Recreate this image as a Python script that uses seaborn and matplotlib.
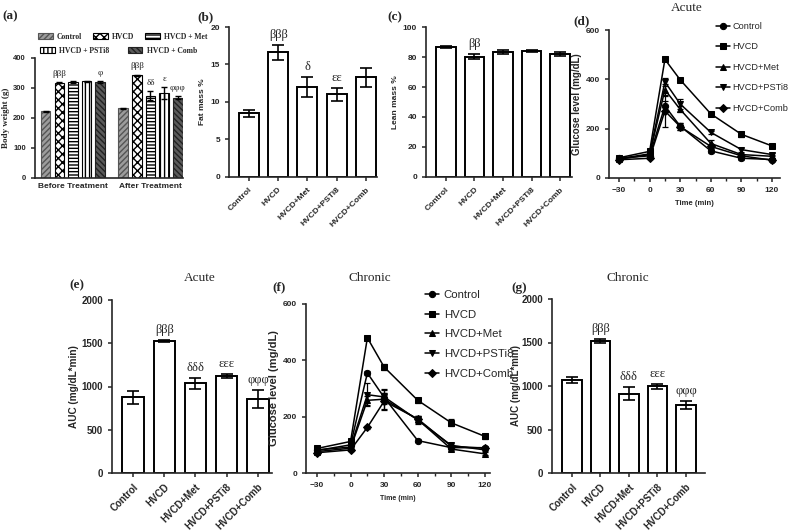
## load packages
import numpy as np
import pandas as pd
import seaborn as sns
import matplotlib.pyplot as plt
from matplotlib.patches import Patch
from matplotlib.ticker import MultipleLocator

## data
groups = ["Control", "HVCD", "HVCD+Met", "HVCD+PSTi8", "HVCD+Comb"]
groups_a = ["Control", "HVCD", "HVCD + Met", "HVCD + PSTi8", "HVCD + Comb"]
phases = ["Before Treatment", "After Treatment"]

bw_before = [222, 318, 320, 322, 320]
bw_before_err = [1, 2, 2, 3, 2]
bw_after = [232, 342, 275, 282, 268]
bw_after_err = [2, 3, 16, 20, 4]
bw_before_sig = ["", "βββ", "", "", "φ"]
bw_after_sig = ["", "βββ", "δδ", "ε", "φφφ"]

fat = [8.5, 16.6, 12.0, 11.0, 13.3]
fat_err = [0.45, 1.0, 1.3, 0.9, 1.25]
fat_sig = ["", "βββ", "δ", "εε", ""]

lean = [86.6, 80.2, 83.3, 84.0, 82.0]
lean_err = [0.5, 1.8, 1.3, 0.7, 1.2]
lean_sig = ["", "ββ", "", "", ""]

times = [-30, 0, 15, 30, 60, 90, 120]
acute_control = [80, 90, 292, 210, 110, 80, 75]
acute_hvcd = [82, 108, 481, 398, 260, 177, 130]
acute_met = [76, 95, 358, 278, 140, 95, 88]
acute_psti8 = [78, 98, 390, 300, 185, 115, 95]
acute_comb = [74, 80, 272, 208, 128, 90, 72]
acute_control_err = [5, 6, 20, 15, 8, 8, 5]
acute_hvcd_err = [5, 5, 8, 8, 6, 10, 8]
acute_met_err = [4, 5, 25, 12, 15, 8, 6]
acute_psti8_err = [4, 5, 15, 22, 6, 8, 6]
acute_comb_err = [4, 4, 65, 15, 8, 6, 5]

chronic_control = [80, 100, 355, 268, 115, 90, 90]
chronic_hvcd = [87, 112, 480, 376, 258, 178, 130]
chronic_met = [76, 88, 258, 262, 190, 85, 68]
chronic_psti8 = [82, 92, 278, 270, 188, 98, 82]
chronic_comb = [72, 82, 162, 255, 192, 95, 88]
chronic_control_err = [5, 5, 8, 15, 6, 6, 5]
chronic_hvcd_err = [5, 5, 8, 12, 8, 12, 8]
chronic_met_err = [4, 4, 15, 35, 12, 6, 5]
chronic_psti8_err = [4, 4, 40, 25, 15, 8, 5]
chronic_comb_err = [4, 4, 6, 30, 10, 6, 5]

auc_acute = [875, 1525, 1035, 1120, 855]
auc_acute_err = [75, 15, 60, 20, 100]
auc_chronic = [1068, 1515, 910, 995, 785]
auc_chronic_err = [30, 20, 75, 25, 45]
auc_sig = ["", "βββ", "δδδ", "εεε", "φφφ"]

## style
sns.set_theme(style="ticks")
plt.rcParams["font.family"] = ["Liberation Sans", "DejaVu Sans"]
plt.rcParams["font.weight"] = "bold"
plt.rcParams["axes.labelweight"] = "bold"
plt.rcParams["axes.linewidth"] = 1.2
plt.rcParams["xtick.major.width"] = 1.1
plt.rcParams["ytick.major.width"] = 1.1
plt.rcParams["xtick.major.size"] = 3
plt.rcParams["ytick.major.size"] = 3
plt.rcParams["hatch.linewidth"] = 1.0
SERIF = ["Liberation Serif", "DejaVu Serif"]

W, H = 789, 532
fig = plt.figure(figsize=(W / 100, H / 100), dpi=100)
fig.patch.set_facecolor("white")


def px_axes(l, t, r, b):
    return fig.add_axes([l / W, 1 - b / H, (r - l) / W, (b - t) / H])


def fig_text(x, y, s, **kw):
    fig.text(x / W, 1 - y / H, s, ha="center", va="center", **kw)


def bar_panel(ax, vals, errs, sigs, ylabel, ymax, step, xlim, tick_fs, label_fs, sig_fs, pad):
    sns.barplot(x=groups, y=vals, color="white", edgecolor="black",
                linewidth=1.4, width=0.68, saturation=1, ax=ax)
    ax.errorbar(range(5), vals, yerr=errs, fmt="none", ecolor="black",
                elinewidth=1.2, capsize=4, capthick=1.2)
    for i, s in enumerate(sigs):
        if s:
            ax.annotate(s, (i, vals[i] + errs[i]), xytext=(0, 3),
                        textcoords="offset points", ha="center", va="bottom",
                        fontsize=sig_fs, family=SERIF, fontweight="normal")
    ax.set_ylim(0, ymax)
    ax.set_xlim(*xlim)
    ax.yaxis.set_major_locator(MultipleLocator(step))
    ax.set_ylabel(ylabel, fontsize=label_fs, labelpad=pad)
    ax.set_xlabel("")
    ax.tick_params(labelsize=tick_fs)
    plt.setp(ax.get_xticklabels(), rotation=45, ha="right", rotation_mode="anchor")
    sns.despine(ax=ax)


def line_panel(ax, series, errs, xlim, leg_xy, leg_fs, leg_sp, leg_hl, leg_tp, ylab_fs, xlab_fs):
    rows = []
    for g in groups:
        for t, v in zip(times, series[g]):
            rows.append({"time": t, "glucose": v, "group": g})
    df = pd.DataFrame(rows)
    mk = {"Control": "o", "HVCD": "s", "HVCD+Met": "^", "HVCD+PSTi8": "v", "HVCD+Comb": "D"}
    sns.lineplot(data=df, x="time", y="glucose", style="group", style_order=groups,
                 markers=mk, dashes=False, color="black", markersize=4.5,
                 markeredgecolor="black", linewidth=1.1, ax=ax)
    for g in groups:
        ax.errorbar(times, series[g], yerr=errs[g], fmt="none", ecolor="black",
                    elinewidth=0.9, capsize=2, capthick=0.9)
    h, l = ax.get_legend_handles_labels()
    ax.legend(h, l, loc="upper left", bbox_to_anchor=(leg_xy[0] / W, 1 - leg_xy[1] / H),
              bbox_transform=fig.transFigure, frameon=False,
              prop={"size": leg_fs, "weight": "normal"}, handlelength=leg_hl,
              labelspacing=leg_sp, handletextpad=leg_tp, borderaxespad=0, borderpad=0)
    ax.set_xlim(*xlim)
    ax.set_ylim(0, 600)
    ax.set_xticks(times[:2] + times[3:])
    ax.xaxis.set_minor_locator(MultipleLocator(15))
    ax.tick_params(axis="x", which="minor", length=2)
    ax.tick_params(labelsize=6)
    ax.yaxis.set_major_locator(MultipleLocator(200))
    ax.set_xlabel("Time (min)", fontsize=xlab_fs)
    ax.set_ylabel("Glucose level (mg/dL)", fontsize=ylab_fs, labelpad=2.5)
    sns.despine(ax=ax)


## (a) body weight
ax_a = px_axes(35, 58, 183, 178)
df_a = pd.DataFrame({"phase": np.repeat(phases, 5), "group": groups_a * 2,
                     "weight": bw_before + bw_after})
sns.barplot(data=df_a, x="phase", y="weight", hue="group", hue_order=groups_a,
            width=0.88, gap=0.3, errorbar=None, legend=False, ax=ax_a)
faces = ["#9c9c9c", "white", "white", "white", "#5a5a5a"]
edges = ["#555555", "black", "black", "black", "#222222"]
hatches = ["//////", "xxxx", "-----", "||||", "\\\\\\\\\\\\"]
bw_vals = [bw_before, bw_after]
bw_errs = [bw_before_err, bw_after_err]
bw_sigs = [bw_before_sig, bw_after_sig]
bar_conts = list(ax_a.containers)
for i, cont in enumerate(bar_conts):
    for j, p in enumerate(cont):
        p.set_facecolor(faces[i])
        p.set_edgecolor(edges[i])
        p.set_hatch(hatches[i])
        p.set_linewidth(0.8)
        cx = p.get_x() + p.get_width() / 2
        ax_a.errorbar(cx, bw_vals[j][i], yerr=bw_errs[j][i], fmt="none",
                      ecolor="black", elinewidth=1.0, capsize=2, capthick=1.0)
        if bw_sigs[j][i]:
            ax_a.annotate(bw_sigs[j][i], (cx, bw_vals[j][i] + bw_errs[j][i]),
                          xytext=(0, 3), textcoords="offset points", ha="center",
                          va="bottom", fontsize=6.5, family=SERIF, fontweight="normal")
ax_a.set_ylim(0, 400)
ax_a.set_xlim(-0.49, 1.42)
ax_a.yaxis.set_major_locator(MultipleLocator(100))
ax_a.set_xlabel("")
ax_a.set_ylabel("Body weight (g)", fontsize=6.5, family=SERIF, labelpad=2)
ax_a.tick_params(axis="x", length=0, labelsize=6)
ax_a.tick_params(axis="y", labelsize=5.5)
sns.despine(ax=ax_a)
handles = [Patch(facecolor=faces[i], edgecolor=edges[i], hatch=hatches[i], linewidth=0.8)
           for i in range(5)]
leg_prop = {"family": SERIF, "size": 5.5, "weight": "bold"}
leg1 = ax_a.legend(handles[:3], groups_a[:3], ncol=3, loc="upper left",
                   bbox_to_anchor=(38 / W, 1 - 33 / H), bbox_transform=fig.transFigure,
                   frameon=False, prop=leg_prop, handlelength=1.9, handleheight=0.8,
                   columnspacing=1.4, handletextpad=0.6, borderaxespad=0, borderpad=0)
ax_a.add_artist(leg1)
ax_a.legend(handles[3:], groups_a[3:], ncol=2, loc="upper left",
            bbox_to_anchor=(40 / W, 1 - 47 / H), bbox_transform=fig.transFigure,
            frameon=False, prop=leg_prop, handlelength=1.9, handleheight=0.8,
            columnspacing=2.4, handletextpad=0.6, borderaxespad=0, borderpad=0)

## (b) fat mass
ax_b = px_axes(229, 27, 377, 177)
bar_panel(ax_b, fat, fat_err, fat_sig, "Fat mass %", 20, 5, (-0.68, 4.38), 6, 6, 9, 3)

## (c) lean mass
ax_c = px_axes(426, 27, 572, 177)
bar_panel(ax_c, lean, lean_err, lean_sig, "Lean mass %", 100, 20, (-0.7, 4.42), 6, 6, 9, 3)

## (d) acute glucose
ax_d = px_axes(609, 30, 780, 178)
acute = {"Control": acute_control, "HVCD": acute_hvcd, "HVCD+Met": acute_met,
         "HVCD+PSTi8": acute_psti8, "HVCD+Comb": acute_comb}
acute_err = {"Control": acute_control_err, "HVCD": acute_hvcd_err, "HVCD+Met": acute_met_err,
             "HVCD+PSTi8": acute_psti8_err, "HVCD+Comb": acute_comb_err}
line_panel(ax_d, acute, acute_err, (-39.8, 127.8), (716, 22), 6.6, 1.25, 1.5, 0.3, 7, 5.5)

## (e) acute AUC
ax_e = px_axes(112, 300, 272, 473)
bar_panel(ax_e, auc_acute, auc_acute_err, auc_sig, "AUC (mg/dL*min)", 2000, 500,
          (-0.67, 4.45), 7, 7.2, 9, 1.5)

## (f) chronic glucose
ax_f = px_axes(306, 304, 490, 473)
chronic = {"Control": chronic_control, "HVCD": chronic_hvcd, "HVCD+Met": chronic_met,
           "HVCD+PSTi8": chronic_psti8, "HVCD+Comb": chronic_comb}
chronic_err = {"Control": chronic_control_err, "HVCD": chronic_hvcd_err,
               "HVCD+Met": chronic_met_err, "HVCD+PSTi8": chronic_psti8_err,
               "HVCD+Comb": chronic_comb_err}
line_panel(ax_f, chronic, chronic_err, (-39.8, 124.5), (425, 290), 8.2, 0.85, 1.25, 0.4, 8, 5)

## (g) chronic AUC
ax_g = px_axes(552, 299, 705, 473)
bar_panel(ax_g, auc_chronic, auc_chronic_err, auc_sig, "AUC (mg/dL*min)", 2000, 500,
          (-0.7, 4.67), 7, 7, 9, 0.5)

## titles and panel letters
for x, y, s in [(10, 16, "(a)"), (206, 17, "(b)"), (395, 17, "(c)"), (582, 21, "(d)"),
                (77, 285, "(e)"), (279, 287, "(f)"), (519, 288, "(g)")]:
    fig_text(x, y, s, fontsize=9.5, family=SERIF, fontweight="bold")
for x, y, s in [(687, 8, "Acute"), (200, 278, "Acute"), (370, 278, "Chronic"),
                (628, 278, "Chronic")]:
    fig_text(x, y, s, fontsize=9.5, family=SERIF, fontweight="normal")

fig.savefig("out.png", dpi=100)
